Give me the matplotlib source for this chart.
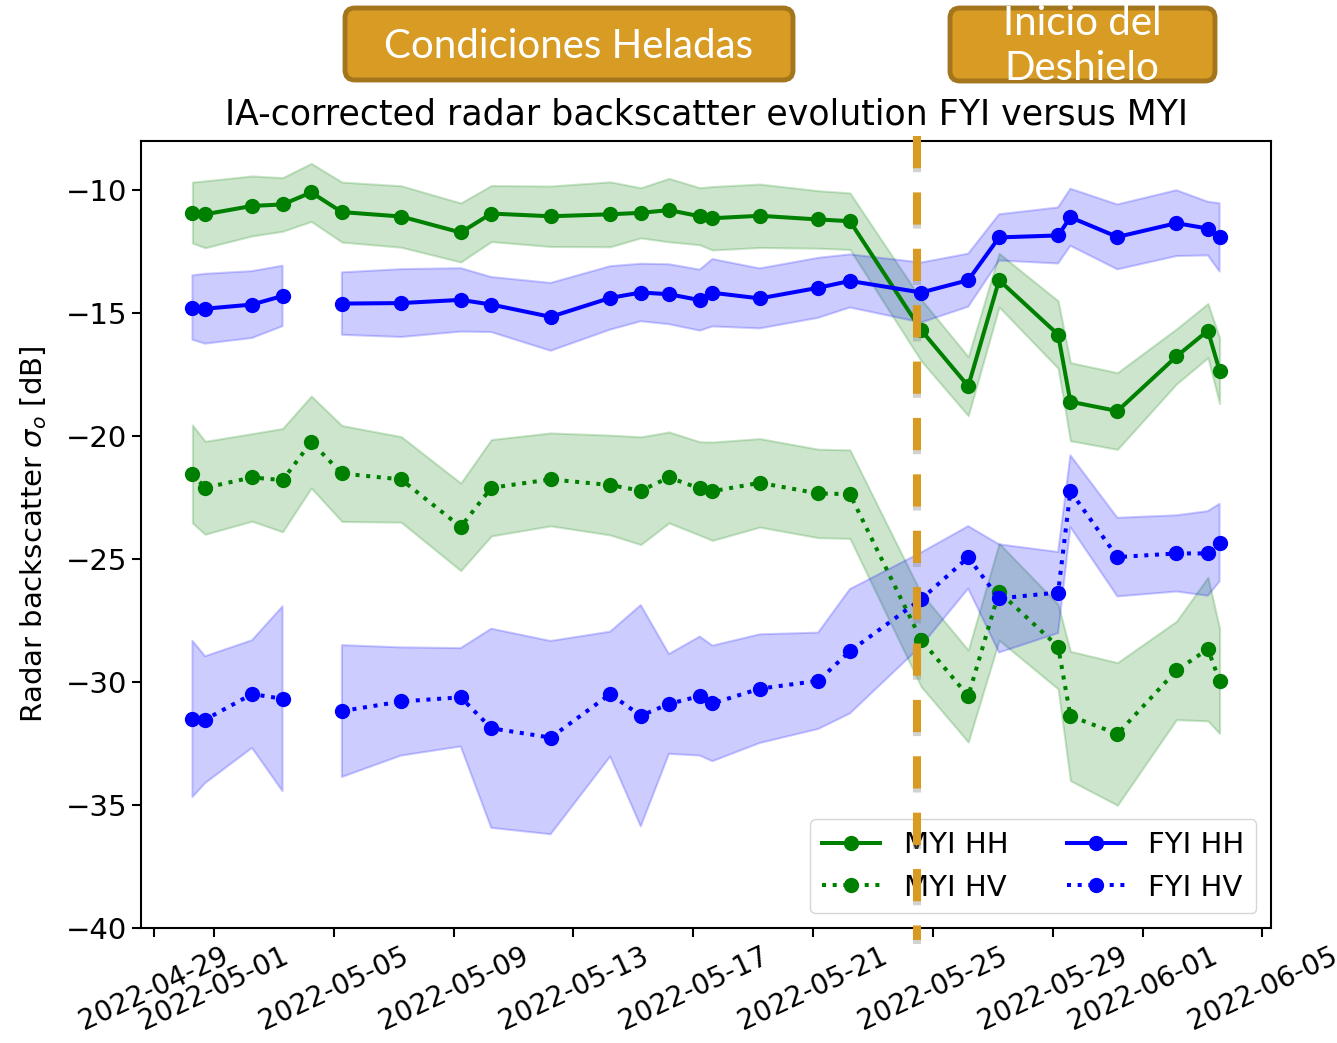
import numpy as np
import pandas as pd
import matplotlib
matplotlib.use("Agg")
from matplotlib import pyplot as plt
import matplotlib.dates as mdates
from matplotlib.lines import Line2D
from matplotlib.patches import FancyBboxPatch
from matplotlib.transforms import blended_transform_factory
import matplotlib.patheffects as pe

# Acquisition times
dates = ['2022-04-30 06:48', '2022-04-30 16:58', '2022-05-02 06:33', '2022-05-03 07:02',
         '2022-05-04 06:00', '2022-05-05 06:33', '2022-05-07 06:00', '2022-05-09 05:46',
         '2022-05-10 06:14', '2022-05-12 05:46', '2022-05-14 05:31', '2022-05-15 06:00',
         '2022-05-16 04:34', '2022-05-17 05:17', '2022-05-17 15:22', '2022-05-19 05:17',
         '2022-05-21 04:05', '2022-05-22 05:31', '2022-05-24 14:38', '2022-05-26 04:19',
         '2022-05-27 05:02', '2022-05-29 04:19', '2022-05-29 14:10', '2022-05-31 03:50',
         '2022-06-02 03:07', '2022-06-03 04:19', '2022-06-03 13:41']

# mean sigma0 [dB] and standard deviation per scene
myi_hh = [-10.91, -10.98, -10.64, -10.58, -10.09, -10.89, -11.07, -11.72, -10.95, -11.06,
          -10.98, -10.92, -10.81, -11.06, -11.14, -11.04, -11.19, -11.26,
          -15.69, -17.97, -13.66, -15.87, -18.60, -18.98, -16.76, -15.71, -17.34]
myi_hh_std = [1.24, 1.36, 1.22, 1.09, 1.18, 1.22, 1.25, 1.20, 1.14, 1.23,
              1.32, 1.02, 1.29, 1.16, 1.29, 1.29, 1.17, 1.15,
              1.25, 1.20, 1.09, 1.37, 1.59, 1.56, 1.12, 1.10, 1.34]

myi_hv = [-21.54, -22.10, -21.68, -21.79, -20.24, -21.52, -21.76, -23.69, -22.10, -21.76,
          -21.99, -22.22, -21.68, -22.13, -22.24, -21.90, -22.33, -22.36,
          -28.29, -30.57, -26.33, -28.56, -31.38, -32.11, -29.53, -28.66, -29.95]
myi_hv_std = [1.99, 1.89, 1.78, 2.10, 1.87, 1.95, 1.74, 1.78, 1.96, 1.89,
              2.03, 2.19, 1.85, 1.90, 2.00, 1.80, 1.80, 1.80,
              1.90, 1.87, 1.97, 1.72, 2.63, 2.90, 2.00, 2.92, 2.14]

fyi_hh = [-14.77, -14.82, -14.65, -14.30, np.nan, -14.61, -14.59, -14.46, -14.65, -15.15,
          -14.38, -14.16, -14.23, -14.47, -14.17, -14.40, -13.97, -13.69,
          -14.16, -13.66, -11.92, -11.84, -11.10, -11.90, -11.34, -11.56, -11.92]
fyi_hh_std = [1.31, 1.42, 1.36, 1.23, np.nan, 1.27, 1.38, 1.29, 1.12, 1.38,
              1.29, 1.17, 1.22, 1.24, 1.37, 1.22, 1.22, 1.08,
              1.22, 1.08, 0.94, 1.14, 1.16, 1.32, 1.34, 1.09, 1.39]

fyi_hv = [-31.50, -31.53, -30.49, -30.68, np.nan, -31.18, -30.79, -30.62, -31.88, -32.26,
          -30.49, -31.37, -30.89, -30.57, -30.87, -30.27, -29.95, -28.75,
          -26.63, -24.93, -26.60, -26.36, -22.24, -24.92, -24.77, -24.77, -24.33]
fyi_hv_std = [3.18, 2.58, 2.19, 3.76, np.nan, 2.68, 2.20, 2.00, 4.05, 3.93,
              2.54, 4.50, 2.03, 2.42, 2.35, 2.21, 1.96, 2.53,
              1.90, 1.27, 2.20, 1.65, 1.46, 1.60, 1.55, 1.72, 1.58]

melt_onset = '2022-05-24 11:30'

plt.rcParams['font.size'] = 21

t = pd.to_datetime(dates)

fig = plt.figure(figsize=(13.37, 10.43), dpi=100)
ax = fig.add_axes([0.1055, 0.1103, 0.8451, 0.7545])

series = [
    (myi_hh, myi_hh_std, 'green', '-', 'MYI HH'),
    (myi_hv, myi_hv_std, 'green', ':', 'MYI HV'),
    (fyi_hh, fyi_hh_std, 'blue', '-', 'FYI HH'),
    (fyi_hv, fyi_hv_std, 'blue', ':', 'FYI HV'),
]
for mean, std, col, ls, lab in series:
    m = np.array(mean)
    s = np.array(std)
    ax.plot(t, m, linestyle=ls, marker='o', color=col, lw=2.9, ms=10, label=lab)
    ax.fill_between(t, m - s, m + s, color=col, alpha=0.2, lw=1.5)

ax.set_ylim(-40, -8)
ax.set_title('IA-corrected radar backscatter evolution FYI versus MYI', fontsize=25, pad=12)
ax.set_ylabel(r'Radar backscatter $\sigma_o$ [dB]', labelpad=12)
ax.xaxis.set_major_locator(mdates.AutoDateLocator())
ax.xaxis.set_major_formatter(mdates.DateFormatter('%Y-%m-%d'))
ax.tick_params(length=6.5, width=1.5)
ax.tick_params(axis='x', labelsize=20)
for s in ax.spines.values():
    s.set_linewidth(1.5)
plt.setp(ax.get_xticklabels(), rotation=25)
ax.legend(loc='lower right', ncol=2)

# onset of melt marker
trans = blended_transform_factory(ax.transData, fig.transFigure)
xm = mdates.date2num(pd.Timestamp(melt_onset))
vline = Line2D([xm, xm], [1 - 136 / 1043, 1 - 940 / 1043], transform=trans,
               color='#D99A22', lw=5.8, dashes=(4, 3), solid_capstyle='butt',
               path_effects=[pe.SimpleLineShadow(offset=(0, -3), shadow_color='grey', alpha=0.35),
                             pe.Normal()])
fig.add_artist(vline)

# phase labels
box_kw = dict(boxstyle='round,pad=0,rounding_size=0.1', fc='#D89B24', ec='#A3751C', lw=3.5,
              transform=fig.dpi_scale_trans)
fig.add_artist(FancyBboxPatch((3.45, 9.63), 4.48, 0.72, **box_kw))
fig.add_artist(FancyBboxPatch((9.50, 9.62), 2.65, 0.73, **box_kw))

txt_kw = dict(color='white', family='Lato', weight='normal', fontsize=29,
              ha='center', va='baseline')
fig.text(569 / 1337, 1 - 58 / 1043, 'Condiciones Heladas', **txt_kw)
fig.text(1082 / 1337, 1 - 35 / 1043, 'Inicio del', **txt_kw)
fig.text(1082 / 1337, 1 - 80 / 1043, 'Deshielo', **txt_kw)

fig.savefig('out.png', dpi=100)
